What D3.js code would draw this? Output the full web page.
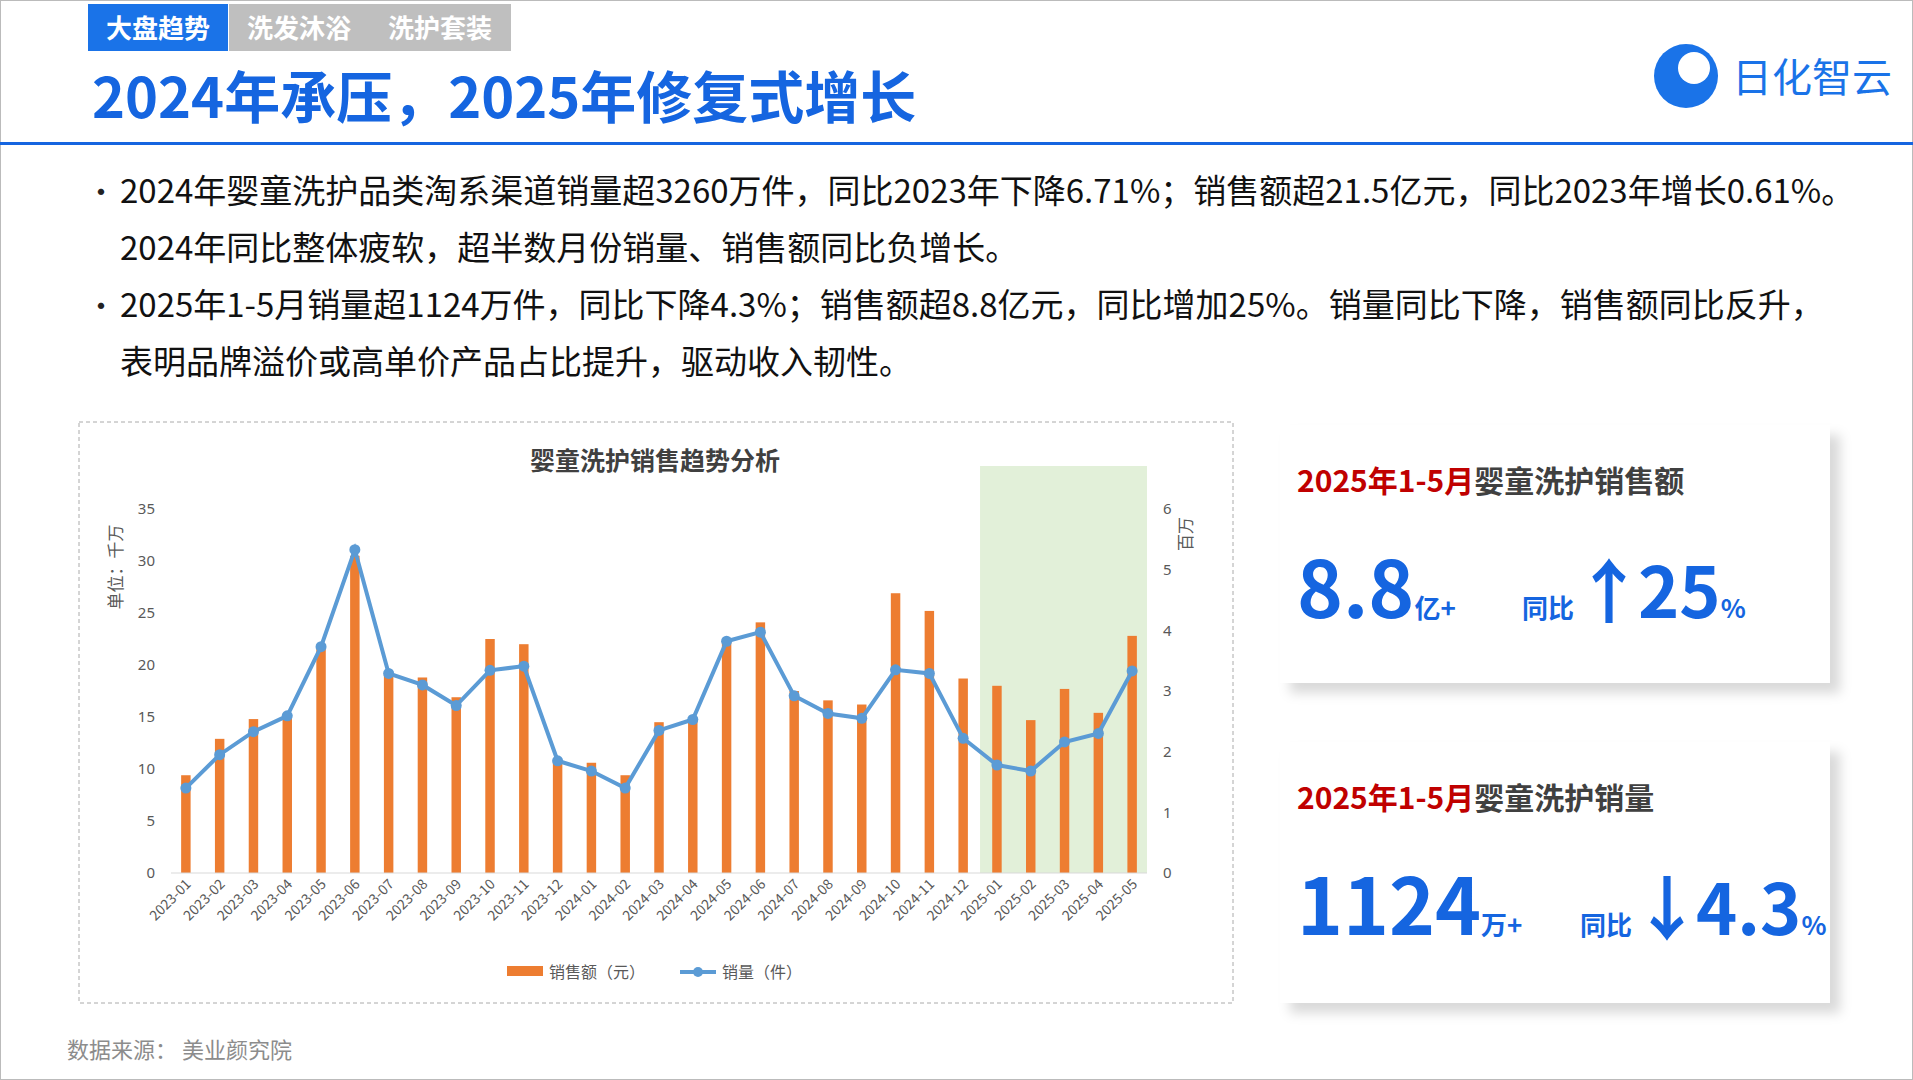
<!DOCTYPE html>
<html><head><meta charset="utf-8">
<script src="https://cdn.jsdelivr.net/npm/d3@7"></script>
<style>body{margin:0;background:#fff;font-family:"Noto Sans CJK SC","Noto Sans",sans-serif}</style>
</head><body>
<svg id="c" width="1913" height="1080"></svg>
<script>
const months=["2023-01","2023-02","2023-03","2023-04","2023-05","2023-06","2023-07","2023-08","2023-09","2023-10","2023-11","2023-12","2024-01","2024-02","2024-03","2024-04","2024-05","2024-06","2024-07","2024-08","2024-09","2024-10","2024-11","2024-12","2025-01","2025-02","2025-03","2025-04","2025-05"];
const salesAmount=[9.4,12.9,14.8,15.1,21.8,30.5,19.3,18.8,16.9,22.5,22.0,10.7,10.6,9.4,14.5,14.9,22.2,24.1,17.5,16.6,16.2,26.9,25.2,18.7,18.0,14.7,17.7,15.4,22.8];
const salesVolume=[1.40,1.95,2.33,2.59,3.73,5.33,3.29,3.10,2.76,3.34,3.41,1.85,1.68,1.40,2.35,2.53,3.82,3.97,2.92,2.63,2.55,3.35,3.29,2.22,1.78,1.68,2.16,2.30,3.33];
const leftTicks=[0,5,10,15,20,25,30,35];
const rightTicks=[0,1,2,3,4,5,6];
const tabs=["大盘趋势","洗发沐浴","洗护套装"];
const bullets=[["2024年婴童洗护品类淘系渠道销量超3260万件，同比2023年下降6.71%；销售额超21.5亿元，同比2023年增长0.61%。","2024年同比整体疲软，超半数月份销量、销售额同比负增长。"],["2025年1-5月销量超1124万件，同比下降4.3%；销售额超8.8亿元，同比增加25%。销量同比下降，销售额同比反升，","表明品牌溢价或高单价产品占比提升，驱动收入韧性。"]];

const svg=d3.select("#c");
const BLUE="#1565e0";
svg.append("rect").attr("x",0.5).attr("y",0.5).attr("width",1912).attr("height",1079).attr("fill","none").attr("stroke","#bbb");
tabs.forEach((t,i)=>{
  const x=88+i*141;
  svg.append("rect").attr("x",x).attr("y",4).attr("width",i==0?140:141).attr("height",47).attr("fill",i==0?"#1a73e8":"#bfbfbf");
  svg.append("text").attr("x",x+70).attr("y",38).attr("text-anchor","middle").attr("fill","#fff").attr("font-size",26).attr("font-weight",700).text(t);
});
svg.append("text").attr("x",92).attr("y",118).attr("fill",BLUE).attr("font-size",56).attr("font-weight",700).text("2024年承压，2025年修复式增长");
svg.append("rect").attr("x",0).attr("y",142).attr("width",1913).attr("height",3).attr("fill",BLUE);
const lg=svg.append("g").attr("transform","translate(1650,38)");
lg.append("circle").attr("cx",36).attr("cy",38).attr("r",32).attr("fill","#1a73e8");
lg.append("circle").attr("cx",44).attr("cy",30).attr("r",16).attr("fill","#fff");
lg.append("text").attr("x",82).attr("y",54).attr("fill","#1a73e8").attr("font-size",40).attr("font-weight",400).text("日化智云");
let by=[203,260,317,374];
let k=0;
bullets.forEach(b=>{b.forEach((l,j)=>{
  if(j==0) svg.append("text").attr("x",86).attr("y",by[k]).attr("font-size",30).attr("fill","#222").text("•");
  svg.append("text").attr("x",120).attr("y",by[k]).attr("font-size",33).attr("fill","#111").text(l);k++;});});
svg.append("rect").attr("x",79).attr("y",422).attr("width",1154).attr("height",581).attr("fill","none").attr("stroke","#aaa").attr("stroke-dasharray","4,3");
svg.append("text").attr("x",655).attr("y",470).attr("text-anchor","middle").attr("font-size",25).attr("font-weight",700).attr("fill","#404040").text("婴童洗护销售趋势分析");
const x0=171,x1=1147,yB=873,yT=509;
const x=d3.scaleBand().domain(months).range([x0,x1]).paddingInner(0.72).paddingOuter(0.3);
const yL=d3.scaleLinear().domain([0,35]).range([yB,yT]);
const yR=d3.scaleLinear().domain([0,6]).range([yB,yT]);
const xc=d=>x(d)+x.bandwidth()/2;
const gx=x(months[24])-x.step()*0.36;
svg.append("rect").attr("x",gx).attr("y",466).attr("width",x1-gx).attr("height",yB-466).attr("fill","#e2f0d9");
svg.selectAll(".bar").data(salesAmount).join("rect").attr("x",(d,i)=>x(months[i])).attr("y",d=>yL(d)).attr("width",x.bandwidth()).attr("height",d=>yB-yL(d)).attr("fill","#ed7d31");
svg.append("line").attr("x1",x0).attr("x2",x1).attr("y1",yB).attr("y2",yB).attr("stroke","#d9d9d9");
const ax=svg.append("g").attr("transform",`translate(${x0-4},0)`).call(d3.axisLeft(yL).tickValues(leftTicks).tickSize(0).tickPadding(12));
const axr=svg.append("g").attr("transform",`translate(${x1+8},0)`).call(d3.axisRight(yR).tickValues(rightTicks).tickFormat(d3.format("d")).tickSize(0).tickPadding(8));
[ax,axr].forEach(a=>{a.select(".domain").remove();a.selectAll("text").attr("font-size",15).attr("fill","#595959").attr("font-family","Liberation Sans Narrow, Noto Sans");});
svg.append("text").attr("transform","translate(122,567) rotate(-90)").attr("text-anchor","middle").attr("font-size",17).attr("fill","#595959").text("单位：千万");
svg.append("text").attr("transform","translate(1192,534) rotate(-90)").attr("text-anchor","middle").attr("font-size",17).attr("fill","#595959").text("百万");
svg.selectAll(".xl").data(months).join("text").attr("transform",d=>`translate(${xc(d)+6},${yB+12}) rotate(-45)`).attr("text-anchor","end").attr("font-size",14).attr("fill","#595959").text(d=>d);
const line=d3.line().x((d,i)=>xc(months[i])).y(d=>yR(d));
svg.append("path").datum(salesVolume).attr("d",line).attr("fill","none").attr("stroke","#5b9bd5").attr("stroke-width",4);
svg.selectAll(".pt").data(salesVolume).join("circle").attr("cx",(d,i)=>xc(months[i])).attr("cy",d=>yR(d)).attr("r",5.5).attr("fill","#5b9bd5");
svg.append("rect").attr("x",507).attr("y",966).attr("width",36).attr("height",10).attr("fill","#ed7d31");
svg.append("text").attr("x",549).attr("y",978).attr("font-size",16).attr("fill","#595959").text("销售额（元）");
svg.append("line").attr("x1",680).attr("x2",716).attr("y1",972).attr("y2",972).attr("stroke","#5b9bd5").attr("stroke-width",4);
svg.append("circle").attr("cx",698).attr("cy",972).attr("r",5).attr("fill","#5b9bd5");
svg.append("text").attr("x",722).attr("y",978).attr("font-size",16).attr("fill","#595959").text("销量（件）");
const defs=svg.append("defs");
const f=defs.append("filter").attr("id","sh").attr("x","-10%").attr("y","-10%").attr("width","130%").attr("height","130%");
f.append("feDropShadow").attr("dx",10).attr("dy",10).attr("stdDeviation",6).attr("flood-color","#000").attr("flood-opacity",0.15);
function card(y,h,title,big,unit,arrow,pct,bigX2){
  svg.append("rect").attr("x",1280).attr("y",y).attr("width",550).attr("height",h).attr("fill","#fff").attr("filter","url(#sh)");
  const t=svg.append("text").attr("x",1297).attr("y",y+67).attr("font-size",30).attr("font-weight",700);
  t.append("tspan").attr("fill","#c00000").text("2025年1-5月");
  t.append("tspan").attr("fill","#404040").text(title);
  const b=svg.append("text").attr("x",1297).attr("y",y+193).attr("fill",BLUE).attr("font-weight",700);
  b.append("tspan").attr("font-size",78).text(big);
  b.append("tspan").attr("font-size",26).text(unit);
  const c=svg.append("text").attr("x",bigX2).attr("y",y+193).attr("fill",BLUE).attr("font-weight",700);
  c.append("tspan").attr("font-size",26).text("同比");
  c.append("tspan").attr("font-size",70).attr("letter-spacing",-6).text(arrow);
  c.append("tspan").attr("font-size",70).text(pct);
  c.append("tspan").attr("font-size",26).text("%");
}
card(425,258,"婴童洗护销售额","8.8","亿+","↑","25",1522);
card(742,261,"婴童洗护销量","1124","万+","↓","4.3",1580);
svg.append("text").attr("x",67).attr("y",1058).attr("font-size",22).attr("fill","#8c8c8c").text("数据来源：  美业颜究院");
</script></body></html>
